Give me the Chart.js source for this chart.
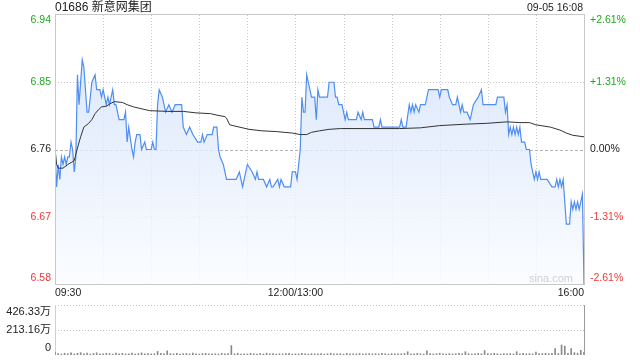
<!DOCTYPE html>
<html>
<head>
<meta charset="utf-8">
<script src="https://cdn.jsdelivr.net/npm/chart.js@4.4.1/dist/chart.umd.min.js"></script>
<style>
  html, body { margin: 0; padding: 0; background: #fff; }
  #wrap { position: relative; width: 640px; height: 360px; overflow: hidden; }
  #c1 { position: absolute; left: 0; top: 0; }
  #c2 { position: absolute; left: 0; top: 300px; }
</style>
</head>
<body>
<div id="wrap">
  <canvas id="c1" width="640" height="300"></canvas>
  <canvas id="c2" width="640" height="60"></canvas>
</div>
<script>
// ---------- data ----------
const stockTitle = '01686 新意网集团';
const stampText = '09-05 16:08';
const prevClose = 6.76;

const yTicks = [6.58, 6.67, 6.76, 6.85, 6.94];
const pctLabels = ['-2.61%', '-1.31%', '0.00%', '+1.31%', '+2.61%'];
const xTickMinutes = [0, 150, 330];
const xTickLabels = ['09:30', '12:00/13:00', '16:00'];

const priceMinutes = [0,1,2,3,4,5,6,7,8,9,10,11,12,13,14,15,17,18,20,21,23,25,26,28,29,30,32,33,34,36,37,38,40,43,44,45,46,48,49,50,51,53,54,56,57,60,61,62,63,64,65,67,69,71,73,75,79,80,82,84,86,89,91,92,93,95,98,99,101,102,103,105,107,113,115,117,120,123,125,126,127,130,132,134,135,136,139,140,141,143,147,148,150,151,153,154,155,156,157,159,160,162,163,164,165,170,171,174,175,176,177,179,180,181,182,183,188,189,191,192,193,198,199,202,203,204,215,216,217,219,221,222,223,224,225,227,228,231,233,239,240,241,245,246,248,250,251,252,253,254,255,257,259,261,264,266,267,269,275,276,280,281,282,283,284,285,286,287,288,289,290,291,293,294,296,297,299,300,301,302,303,307,310,312,313,314,315,316,317,319,321,322,323,324,325,326,327,328,329,330];
const prices = [6.76,6.71,6.74,6.72,6.75,6.74,6.75,6.74,6.75,6.75,6.77,6.76,6.73,6.75,6.86,6.82,6.88,6.87,6.81,6.81,6.85,6.86,6.84,6.84,6.83,6.84,6.82,6.83,6.82,6.84,6.82,6.82,6.80,6.80,6.81,6.77,6.79,6.76,6.75,6.77,6.78,6.78,6.76,6.77,6.76,6.76,6.77,6.76,6.76,6.82,6.84,6.83,6.81,6.82,6.81,6.82,6.82,6.79,6.78,6.79,6.78,6.77,6.77,6.78,6.77,6.78,6.78,6.79,6.79,6.76,6.75,6.74,6.72,6.72,6.73,6.71,6.74,6.73,6.72,6.73,6.72,6.72,6.71,6.72,6.71,6.71,6.72,6.71,6.72,6.71,6.71,6.73,6.73,6.72,6.76,6.83,6.81,6.81,6.86,6.84,6.83,6.83,6.80,6.84,6.83,6.83,6.85,6.85,6.83,6.83,6.82,6.82,6.81,6.80,6.81,6.80,6.80,6.81,6.80,6.81,6.80,6.80,6.79,6.79,6.80,6.79,6.79,6.80,6.79,6.79,6.82,6.81,6.82,6.81,6.82,6.81,6.82,6.82,6.84,6.84,6.83,6.84,6.84,6.83,6.82,6.82,6.83,6.82,6.81,6.82,6.81,6.81,6.80,6.82,6.83,6.84,6.82,6.82,6.82,6.83,6.83,6.81,6.82,6.78,6.79,6.78,6.79,6.78,6.79,6.78,6.79,6.77,6.77,6.76,6.76,6.74,6.72,6.73,6.72,6.73,6.72,6.72,6.71,6.71,6.72,6.71,6.72,6.71,6.72,6.66,6.66,6.69,6.68,6.69,6.68,6.69,6.68,6.69,6.70,6.58];

const avgMinutes = [0,1,2,5,8,12,14,16,18,21,23,25,27,29,32,35,37,42,45,49,53,59,70,80,88,97,101,106,107,109,111,121,129,138,148,153,157,160,165,171,178,215,228,240,257,269,282,290,296,300,309,315,319,323,330];
const avgPrices = [6.762,6.740,6.735,6.735,6.740,6.745,6.762,6.777,6.790,6.795,6.800,6.808,6.813,6.817,6.818,6.822,6.824,6.823,6.820,6.817,6.815,6.812,6.811,6.811,6.809,6.808,6.806,6.804,6.802,6.793,6.792,6.787,6.785,6.784,6.782,6.780,6.780,6.783,6.785,6.787,6.788,6.788,6.789,6.792,6.794,6.795,6.797,6.796,6.796,6.793,6.790,6.786,6.782,6.779,6.777];

// volume (万股), one bar every two minutes from 09:30
const volTicks = [0, 213.16, 426.33];
const volLabels = ['0', '213.16万', '426.33万'];
const volumes = [22,12,8,15,10,18,9,14,20,11,
  16,8,13,19,10,9,15,12,8,17,
  11,14,9,10,16,8,12,18,10,13,
  9,11,30,14,10,35,12,9,15,8,
  11,13,9,16,10,8,12,14,9,11,
  10,8,13,9,12,80,10,15,8,11,
  9,14,10,8,12,9,16,10,13,8,
  11,9,12,15,8,10,9,14,11,8,
  12,10,9,13,8,11,15,9,10,12,
  8,14,9,11,10,13,8,9,12,10,
  11,9,14,10,8,12,9,11,10,13,
  28,11,9,14,10,8,35,12,9,11,
  15,10,8,12,9,11,14,10,28,12,
  9,11,14,10,38,12,9,15,11,8,
  13,10,12,9,28,11,14,10,12,9,
  25,13,12,15,11,14,55,12,85,75,
  14,55,20,16,40,22];

// ---------- styling ----------
const FONT = '"Liberation Sans", Arial, "Noto Sans CJK SC", sans-serif';
const GREEN = '#22a722';
const RED = '#f03a3a';
const BLACK = '#222';
function tickColor(v) {
  if (Math.abs(v - prevClose) < 1e-9) return BLACK;
  return v > prevClose ? GREEN : RED;
}

const priceData = priceMinutes.map((m, i) => ({ x: m, y: prices[i] }));
const avgData = avgMinutes.map((m, i) => ({ x: m, y: avgPrices[i] }));
const volData = volumes.map((v, i) => ({ x: i * 2, y: v }));

const mainDeco = {
  id: 'mainDeco',
  beforeDatasetsDraw(chart) {
    const ctx = chart.ctx, a = chart.chartArea, xs = chart.scales.x, ys = chart.scales.y;
    ctx.save();
    ctx.lineWidth = 1;
    ctx.strokeStyle = '#c8c8c8';
    ctx.setLineDash([1, 2]);
    for (let m = 30; m < 330; m += 30) {
      const x = Math.round(xs.getPixelForValue(m)) + 0.5;
      ctx.beginPath(); ctx.moveTo(x, a.top); ctx.lineTo(x, a.bottom); ctx.stroke();
    }
    yTicks.forEach((v, i) => {
      if (i === 0 || i === yTicks.length - 1) return;
      const y = Math.round(ys.getPixelForValue(v)) + 0.5;
      if (Math.abs(v - prevClose) < 1e-9) { ctx.setLineDash([3, 2]); ctx.strokeStyle = '#b4b4b4'; }
      else { ctx.setLineDash([1, 2]); ctx.strokeStyle = '#c8c8c8'; }
      ctx.beginPath(); ctx.moveTo(a.left, y); ctx.lineTo(a.right, y); ctx.stroke();
    });
    ctx.restore();
  },
  afterDatasetsDraw(chart) {
    const ctx = chart.ctx, a = chart.chartArea;
    ctx.save();
    ctx.fillStyle = '#cdd0d6';
    ctx.font = '11px ' + FONT;
    ctx.textAlign = 'right'; ctx.textBaseline = 'middle';
    ctx.fillText('sina.com', 573, a.bottom - 5);
    ctx.restore();
  },
  afterDraw(chart) {
    const ctx = chart.ctx, a = chart.chartArea, xs = chart.scales.x, ys = chart.scales.y;
    ctx.save();
    ctx.lineWidth = 1;
    ctx.strokeStyle = '#c8c8c8';
    ctx.strokeRect(a.left + 0.5, a.top - 0.5, a.right - a.left, a.bottom - a.top + 1);
    ctx.font = '10.5px ' + FONT;
    ctx.textBaseline = 'middle';
    yTicks.forEach((v, i) => {
      let y = ys.getPixelForValue(v);
      if (i === yTicks.length - 1) y += 5;
      if (i === 0) y -= 6;
      ctx.fillStyle = tickColor(v);
      ctx.textAlign = 'right';
      ctx.fillText(v.toFixed(2), a.left - 4, y);
      ctx.textAlign = 'left';
      ctx.fillText(pctLabels[i], a.right + 6, y);
    });
    ctx.fillStyle = BLACK;
    ctx.font = '10.5px ' + FONT;
    xTickMinutes.forEach((m, i) => {
      const x = xs.getPixelForValue(m);
      ctx.textAlign = i === 0 ? 'left' : (i === xTickMinutes.length - 1 ? 'right' : 'center');
      ctx.fillText(xTickLabels[i], x, a.bottom + 9);
    });
    ctx.font = '12px ' + FONT;
    ctx.textAlign = 'left';
    ctx.fillText(stockTitle, a.left, 8);
    ctx.font = '10.5px ' + FONT;
    ctx.textAlign = 'right';
    ctx.fillText(stampText, a.right - 1, 8);
    ctx.restore();
  }
};

const volDeco = {
  id: 'volDeco',
  beforeDatasetsDraw(chart) {
    const ctx = chart.ctx, a = chart.chartArea, ys = chart.scales.y;
    ctx.save();
    ctx.lineWidth = 1;
    ctx.strokeStyle = '#c4c4c4';
    ctx.setLineDash([1, 2]);
    volTicks.forEach((v, i) => {
      if (i === 0) return;
      const y = Math.round(ys.getPixelForValue(v)) + 0.5;
      ctx.beginPath(); ctx.moveTo(a.left, y); ctx.lineTo(a.right, y); ctx.stroke();
    });
    ctx.setLineDash([]);
    ctx.strokeStyle = '#d0d0d0';
    ctx.beginPath(); ctx.moveTo(a.left + 0.5, a.top); ctx.lineTo(a.left + 0.5, a.bottom); ctx.stroke();
    ctx.strokeStyle = '#9a9a9a';
    ctx.beginPath(); ctx.moveTo(a.right + 0.5, a.top); ctx.lineTo(a.right + 0.5, a.bottom); ctx.stroke();
    ctx.restore();
  },
  afterDraw(chart) {
    const ctx = chart.ctx, a = chart.chartArea, ys = chart.scales.y;
    ctx.save();
    ctx.font = '11px ' + FONT;
    ctx.fillStyle = BLACK;
    ctx.textAlign = 'right'; ctx.textBaseline = 'middle';
    volTicks.forEach((v, i) => {
      let y = ys.getPixelForValue(v);
      if (i === volTicks.length - 1) y += 7;
      if (i === 0) y -= 7;
      ctx.fillText(volLabels[i], a.left - 4, y);
    });
    ctx.restore();
  }
};

function fixWidth(w) { return s => { s.width = w; }; }
function fixHeight(h) { return s => { s.height = h; }; }

new Chart(document.getElementById('c1'), {
  type: 'line',
  data: {
    datasets: [
      {
        label: '均价',
        data: avgData,
        borderColor: '#333',
        borderWidth: 1,
        pointRadius: 0,
        tension: 0,
        fill: false
      },
      {
        label: '价格',
        data: priceData,
        borderColor: '#4f8ff2',
        borderWidth: 1.2,
        pointRadius: 0,
        tension: 0,
        fill: 'start',
        backgroundColor: (c) => {
          const { ctx, chartArea } = c.chart;
          if (!chartArea) return 'rgba(220,230,250,0.5)';
          const g = ctx.createLinearGradient(0, chartArea.top, 0, chartArea.bottom);
          g.addColorStop(0, 'rgba(205,222,250,0.8)');
          g.addColorStop(1, 'rgba(250,252,255,0.8)');
          return g;
        }
      }
    ]
  },
  options: {
    responsive: false,
    animation: false,
    devicePixelRatio: 1,
    layout: { padding: { top: 15, left: 0, right: 0, bottom: 0 } },
    plugins: { legend: { display: false }, tooltip: { enabled: false } },
    scales: {
      x: {
        type: 'linear', min: 0, max: 330,
        grid: { display: false, drawTicks: false },
        border: { display: false },
        ticks: { display: false },
        afterFit: fixHeight(16)
      },
      y: {
        position: 'left', min: 6.58, max: 6.94,
        grid: { display: false, drawTicks: false },
        border: { display: false },
        ticks: { display: false },
        afterBuildTicks: s => { s.ticks = yTicks.map(v => ({ value: v })); },
        afterFit: fixWidth(55)
      },
      y2: {
        position: 'right', min: 6.58, max: 6.94,
        grid: { display: false, drawTicks: false },
        border: { display: false },
        ticks: { display: false },
        afterFit: fixWidth(56)
      }
    }
  },
  plugins: [mainDeco]
});

new Chart(document.getElementById('c2'), {
  type: 'bar',
  data: {
    datasets: [{
      label: '成交量',
      data: volData,
      backgroundColor: '#8a8a8a',
      barThickness: 1,
      borderWidth: 0
    }]
  },
  options: {
    responsive: false,
    animation: false,
    devicePixelRatio: 1,
    layout: { padding: { top: 5, left: 0, right: 0, bottom: 0 } },
    plugins: { legend: { display: false }, tooltip: { enabled: false } },
    scales: {
      x: {
        type: 'linear', min: 0, max: 330, offset: false,
        grid: { display: false, drawTicks: false },
        border: { display: false },
        ticks: { display: false },
        afterFit: fixHeight(5)
      },
      y: {
        position: 'left', min: 0, max: 426.33,
        grid: { display: false, drawTicks: false },
        border: { display: false },
        ticks: { display: false },
        afterFit: fixWidth(55)
      },
      y2: {
        position: 'right', min: 0, max: 426.33,
        grid: { display: false, drawTicks: false },
        border: { display: false },
        ticks: { display: false },
        afterFit: fixWidth(56)
      }
    }
  },
  plugins: [volDeco]
});
</script>
</body>
</html>
